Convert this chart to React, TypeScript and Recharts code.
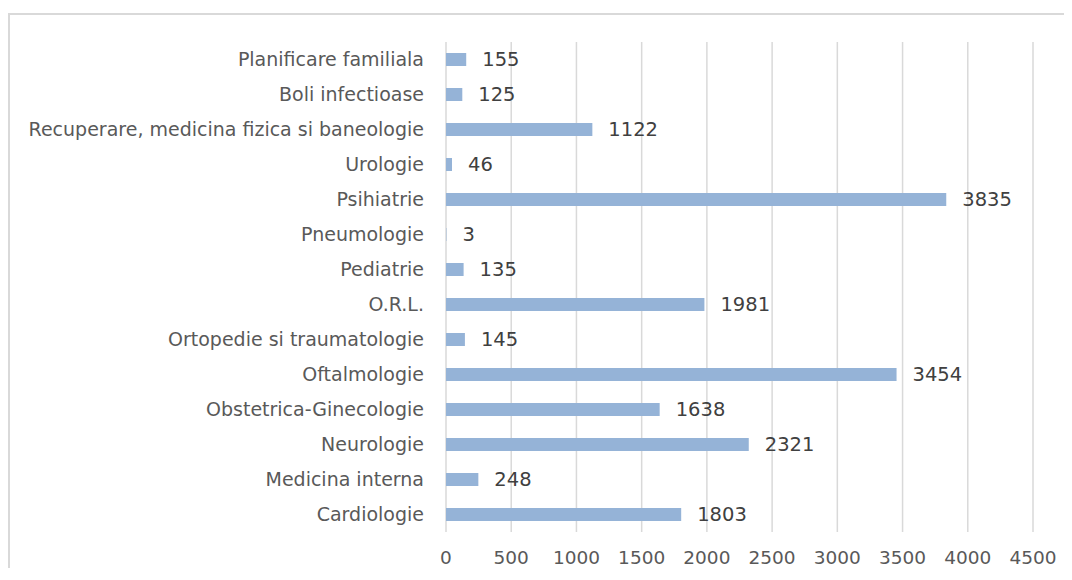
import React from 'react';
import { BarChart, Bar, XAxis, YAxis, CartesianGrid, LabelList } from 'recharts';

const categories = [
  'Planificare familiala',
  'Boli infectioase',
  'Recuperare, medicina fizica si baneologie',
  'Urologie',
  'Psihiatrie',
  'Pneumologie',
  'Pediatrie',
  'O.R.L.',
  'Ortopedie si traumatologie',
  'Oftalmologie',
  'Obstetrica-Ginecologie',
  'Neurologie',
  'Medicina interna',
  'Cardiologie',
];

const values = [155, 125, 1122, 46, 3835, 3, 135, 1981, 145, 3454, 1638, 2321, 248, 1803];

const xTicks = [0, 500, 1000, 1500, 2000, 2500, 3000, 3500, 4000, 4500];

const data = categories.map((name, i) => ({ name, value: values[i] }));

const FONT = '"DejaVu Sans", sans-serif';

const App: React.FC = () => {
  return (
    <div style={{ paddingTop: 5 }}>
      <div
        style={{
          boxSizing: 'border-box',
          width: 1064,
          height: 555,
          borderTop: '2px solid #d9d9d9',
          borderLeft: '2px solid #d9d9d9',
          fontFamily: FONT,
        }}
      >
        <BarChart
          width={1062}
          height={553}
          data={data}
          layout="vertical"
          margin={{ top: 27, right: 39, bottom: 0, left: 0 }}
        >
          <CartesianGrid horizontal={false} stroke="#d9d9d9" strokeWidth={1.5} />
          <XAxis
            type="number"
            domain={[0, 4500]}
            ticks={xTicks}
            height={36}
            axisLine={false}
            tickLine={false}
            tickSize={0}
            tickMargin={19}
            tick={{ fill: '#595959', fontSize: 18.5, fontFamily: FONT }}
          />
          <YAxis
            type="category"
            dataKey="name"
            width={436}
            axisLine={false}
            tickLine={false}
            tickSize={0}
            tickMargin={22}
            interval={0}
            tick={{ fill: '#595959', fontSize: 19, fontFamily: FONT }}
          />
          <Bar dataKey="value" fill="#95b3d7" barSize={13} isAnimationActive={false}>
            <LabelList
              dataKey="value"
              position="right"
              offset={16}
              fill="#404040"
              fontSize={19.5}
              fontFamily={FONT}
            />
          </Bar>
        </BarChart>
      </div>
    </div>
  );
};

export default App;
